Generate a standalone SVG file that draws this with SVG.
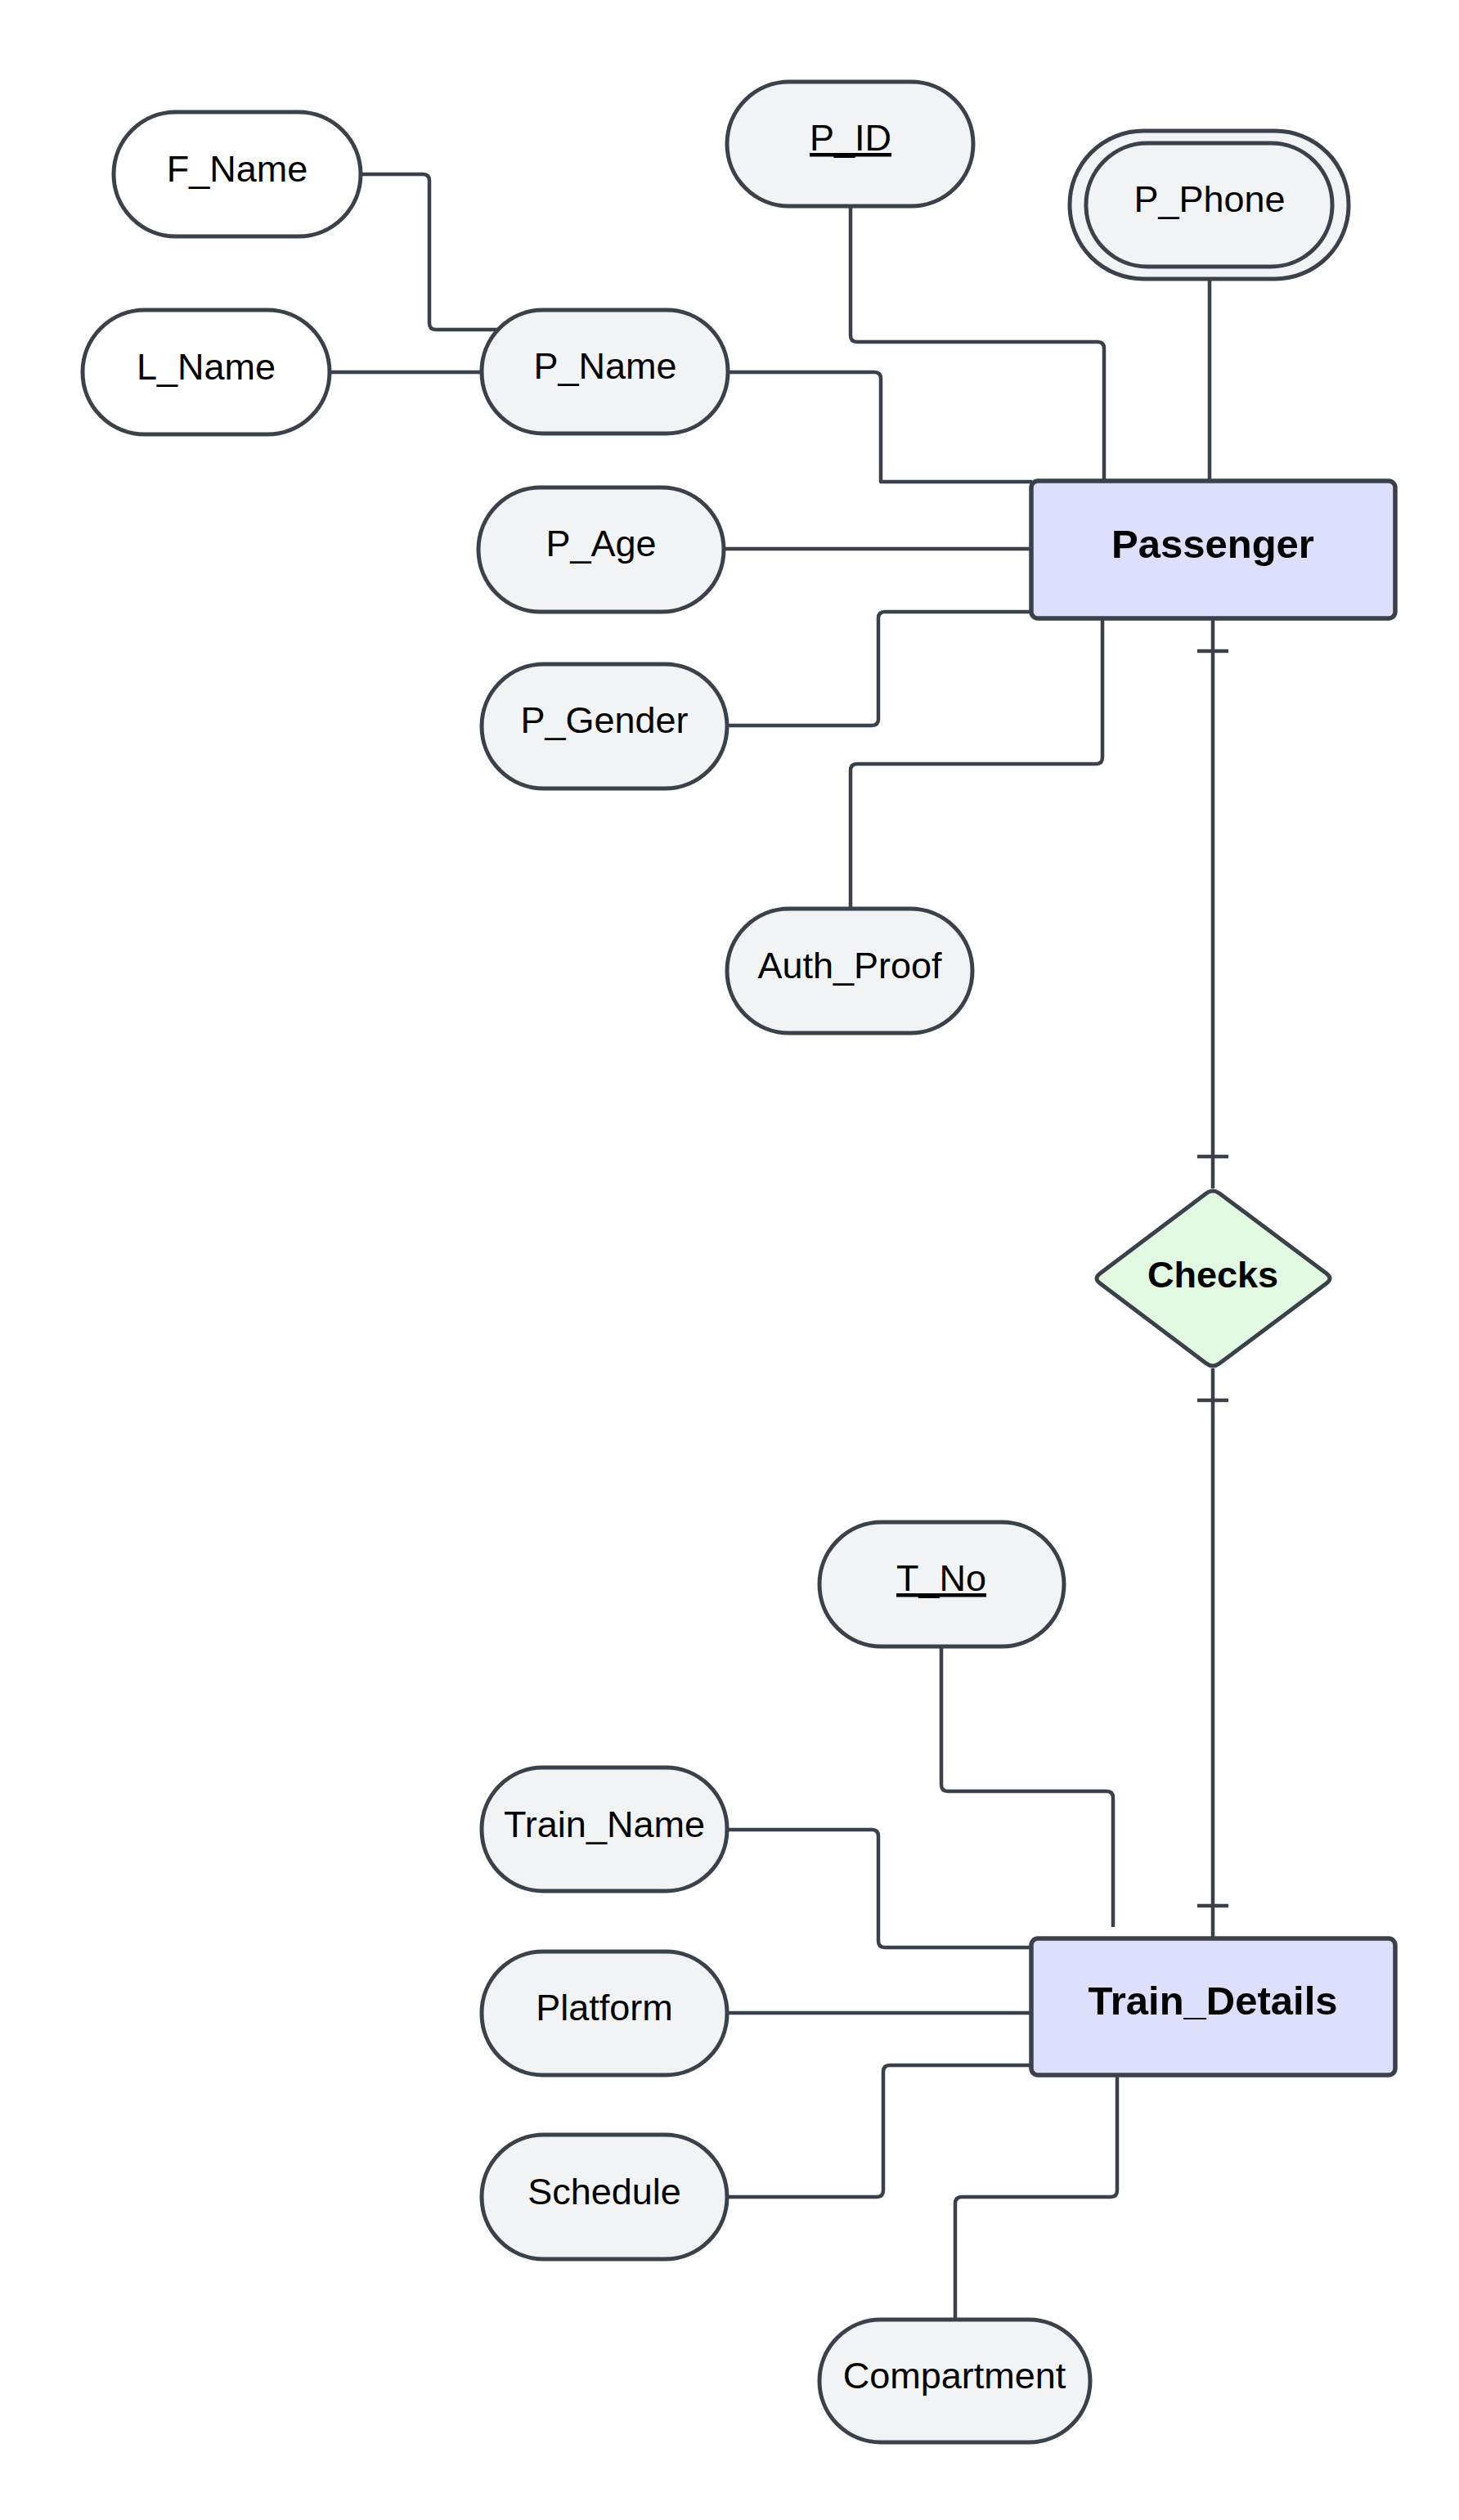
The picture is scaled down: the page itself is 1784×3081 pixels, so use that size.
<svg xmlns="http://www.w3.org/2000/svg" width="1784" height="3081" viewBox="0 0 1784 3081">
<style>
.bg{fill:#ffffff}
.attr{fill:#f2f3f5;stroke:#3a414a;stroke-width:5}
.attrw{fill:#ffffff;stroke:#3a414a;stroke-width:5}
.ent{fill:#dedffc;stroke:#3a414a;stroke-width:5.5}
.rel{fill:#e2fae2;stroke:#3a414a;stroke-width:5;stroke-linejoin:round}
.t{font-family:"Liberation Sans",Arial,sans-serif;font-size:45px;fill:#000;text-anchor:middle}
.tb{font-family:"Liberation Sans",Arial,sans-serif;font-size:49px;font-weight:bold;fill:#000;text-anchor:middle}
.tc{font-family:"Liberation Sans",Arial,sans-serif;font-size:45px;font-weight:bold;fill:#000;text-anchor:middle}
.u{text-decoration:underline}
.c{fill:none;stroke:#3a414a;stroke-width:4.5;stroke-linejoin:round}
</style>
<rect class="bg" x="0" y="0" width="1784" height="3081"/>
<g id="connectors">
  <path class="c" d="M441,213 H517 Q525,213 525,221 V395 Q525,403 533,403 H615"/>
  <path class="c" d="M403,455 H592"/>
  <path class="c" d="M888,455 H1069 Q1077,455 1077,463 V589 H1262"/>
  <path class="c" d="M1040,252 V410 Q1040,418 1048,418 H1342 Q1350,418 1350,426 V588"/>
  <path class="c" d="M1479,341 V588"/>
  <path class="c" d="M885,671 H1262"/>
  <path class="c" d="M889,887 H1066 Q1074,887 1074,879 V756 Q1074,748 1082,748 H1262"/>
  <path class="c" d="M1040,1111 V942 Q1040,934 1048,934 H1340 Q1348,934 1348,926 V756"/>
  <path class="c" d="M1483,756 V1453"/>
  <path class="c" d="M1464,796 H1502"/>
  <path class="c" d="M1464,1414 H1502"/>
  <path class="c" d="M1483,1673 V2370"/>
  <path class="c" d="M1464,1712 H1502"/>
  <path class="c" d="M1464,2330 H1502"/>
  <path class="c" d="M1151,2013 V2182 Q1151,2190 1159,2190 H1353 Q1361,2190 1361,2198 V2356"/>
  <path class="c" d="M889,2237 H1066 Q1074,2237 1074,2245 V2373 Q1074,2381 1082,2381 H1262"/>
  <path class="c" d="M889,2461 H1262"/>
  <path class="c" d="M889,2686 H1072 Q1080,2686 1080,2678 V2533 Q1080,2525 1088,2525 H1262"/>
  <path class="c" d="M1366,2537 V2678 Q1366,2686 1358,2686 H1176 Q1168,2686 1168,2694 V2836"/>
</g>
<g id="F_Name">
  <rect class="attrw" x="139" y="137" width="302" height="152" rx="76"/>
  <text class="t" x="290" y="222">F_Name</text>
</g>
<g id="L_Name">
  <rect class="attrw" x="101" y="379" width="302" height="152" rx="76"/>
  <text class="t" x="252" y="464">L_Name</text>
</g>
<g id="P_Name">
  <rect class="attr" x="589" y="379" width="301" height="151" rx="75"/>
  <text class="t" x="740" y="463">P_Name</text>
</g>
<g id="P_ID">
  <rect class="attr" x="889" y="100" width="301" height="152" rx="76"/>
  <text class="t u" x="1040" y="184">P_ID</text>
</g>
<g id="P_Phone">
  <rect class="attr" x="1308" y="160" width="341" height="181" rx="90"/>
  <rect class="attr" x="1328" y="175" width="301" height="151" rx="75"/>
  <text class="t" x="1479" y="259">P_Phone</text>
</g>
<g id="P_Age">
  <rect class="attr" x="585" y="596" width="300" height="152" rx="76"/>
  <text class="t" x="735" y="680">P_Age</text>
</g>
<g id="P_Gender">
  <rect class="attr" x="589" y="812" width="300" height="152" rx="76"/>
  <text class="t" x="739" y="896">P_Gender</text>
</g>
<g id="Auth_Proof">
  <rect class="attr" x="889" y="1111" width="300" height="152" rx="76"/>
  <text class="t" x="1039" y="1196">Auth_Proof</text>
</g>
<g id="Passenger">
  <rect class="ent" x="1261" y="588" width="445" height="168" rx="8"/>
  <text class="tb" x="1483" y="682">Passenger</text>
</g>
<g id="Checks">
  <path class="rel" d="M1475,1459 Q1483,1453 1491,1459 L1622,1557 Q1630,1563 1622,1569 L1491,1667 Q1483,1673 1475,1667 L1345,1569 Q1337,1563 1345,1557 Z"/>
  <text class="tc" x="1483" y="1574">Checks</text>
</g>
<g id="T_No">
  <rect class="attr" x="1002" y="1861" width="299" height="152" rx="76"/>
  <text class="t u" x="1151" y="1945">T_No</text>
</g>
<g id="Train_Name">
  <rect class="attr" x="589" y="2161" width="300" height="151" rx="75"/>
  <text class="t" x="739" y="2246">Train_Name</text>
</g>
<g id="Platform">
  <rect class="attr" x="589" y="2386" width="300" height="151" rx="75"/>
  <text class="t" x="739" y="2470">Platform</text>
</g>
<g id="Schedule">
  <rect class="attr" x="589" y="2610" width="300" height="152" rx="76"/>
  <text class="t" x="739" y="2695">Schedule</text>
</g>
<g id="Compartment">
  <rect class="attr" x="1002" y="2836" width="331" height="150" rx="75"/>
  <text class="t" x="1167" y="2920">Compartment</text>
</g>
<g id="Train_Details">
  <rect class="ent" x="1261" y="2370" width="445" height="167" rx="8"/>
  <text class="tb" x="1483" y="2463">Train_Details</text>
</g>
</svg>
